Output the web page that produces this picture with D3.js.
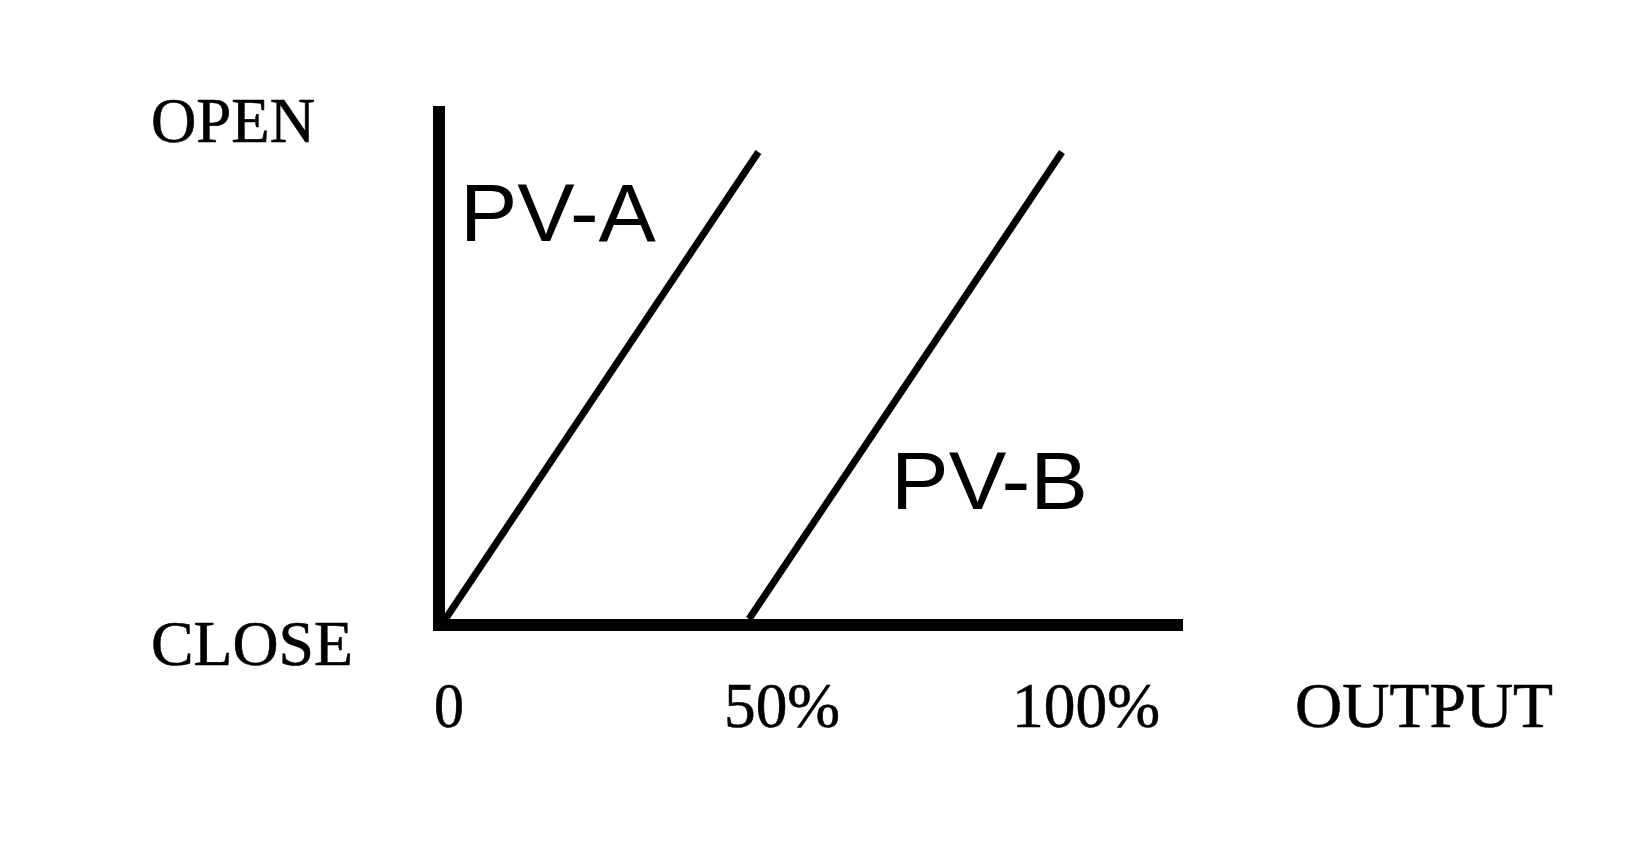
<!DOCTYPE html>
<html>
<head>
<meta charset="utf-8">
<script src="https://cdn.jsdelivr.net/npm/d3@7"></script>
<style>
  html, body { margin: 0; padding: 0; background: #fff; }
  svg { display: block; }
</style>
</head>
<body>
<svg id="chart" width="1650" height="853"></svg>
<script>
// ---- data ----
const seriesNames = ["PV-A", "PV-B"];
const pvAOutput = [1.5, 51.5];   // % output
const pvAOpen   = [0, 100];      // % valve opening
const pvBOutput = [50, 100];
const pvBOpen   = [0, 100];
const xTickValues = [0, 50, 100];
const xTickLabels = ["0", "50%", "100%"];
const yLabels = ["CLOSE", "OPEN"];
const xTitle = "OUTPUT";

// ---- layout ----
const svg = d3.select("#chart");
svg.append("rect").attr("width", 1650).attr("height", 853).attr("fill", "#fff");

const x = d3.scaleLinear().domain([0, 100]).range([436, 1062]);
const y = d3.scaleLinear().domain([0, 100]).range([619, 152]);

const serif = "'Liberation Serif', 'Times New Roman', serif";
const sans = "'Liberation Sans', Arial, sans-serif";

// axes (thick black lines)
const axisW = 12;
svg.append("line")
  .attr("x1", 439).attr("x2", 439)
  .attr("y1", 106).attr("y2", y(0) + axisW)
  .attr("stroke", "#000").attr("stroke-width", axisW);
svg.append("line")
  .attr("x1", 433).attr("x2", 1183)
  .attr("y1", y(0) + axisW / 2).attr("y2", y(0) + axisW / 2)
  .attr("stroke", "#000").attr("stroke-width", axisW);

// series lines
const line = d3.line().x(d => x(d[0])).y(d => y(d[1]));
const seriesData = [
  d3.zip(pvAOutput, pvAOpen),
  d3.zip(pvBOutput, pvBOpen)
];
svg.selectAll("path.series").data(seriesData).join("path")
  .attr("class", "series")
  .attr("d", line)
  .attr("fill", "none")
  .attr("stroke", "#000")
  .attr("stroke-width", 7)
  .attr("stroke-linecap", "butt");

// series labels
const labelPos = [{ x: 460, y: 241, w: 196 }, { x: 891, y: 509, w: 197 }];
svg.selectAll("text.series-label").data(seriesNames).join("text")
  .attr("class", "series-label")
  .attr("x", (d, i) => labelPos[i].x)
  .attr("y", (d, i) => labelPos[i].y)
  .attr("font-family", sans)
  .attr("font-size", 82)
  .attr("textLength", (d, i) => labelPos[i].w)
  .attr("lengthAdjust", "spacingAndGlyphs")
  .attr("fill", "#000")
  .text(d => d);

// y labels
const yLabelLayout = [
  { x: 151, y: 665, w: 202 },
  { x: 151, y: 142, w: 164 }
];
const serifStyle = sel => sel
  .attr("font-family", serif)
  .attr("font-size", 64)
  .attr("lengthAdjust", "spacingAndGlyphs")
  .attr("fill", "#000")
  .attr("stroke", "#000")
  .attr("stroke-width", 0.6);

svg.selectAll("text.ylab").data(yLabels).join("text")
  .attr("class", "ylab")
  .attr("x", (d, i) => yLabelLayout[i].x)
  .attr("y", (d, i) => yLabelLayout[i].y)
  .attr("textLength", (d, i) => yLabelLayout[i].w)
  .call(serifStyle)
  .text(d => d);

// x tick labels
const tickLayout = [
  { dx: -2, w: 30 },
  { dx: -25, w: 116 },
  { dx: -50, w: 148 }
];
svg.selectAll("text.xtick").data(xTickValues).join("text")
  .attr("class", "xtick")
  .attr("x", (d, i) => x(d) + tickLayout[i].dx)
  .attr("y", 727)
  .attr("textLength", (d, i) => tickLayout[i].w)
  .call(serifStyle)
  .text((d, i) => xTickLabels[i]);

// x title
svg.append("text")
  .attr("x", 1295).attr("y", 727)
  .attr("textLength", 258)
  .call(serifStyle)
  .text(xTitle);
</script>
</body>
</html>
